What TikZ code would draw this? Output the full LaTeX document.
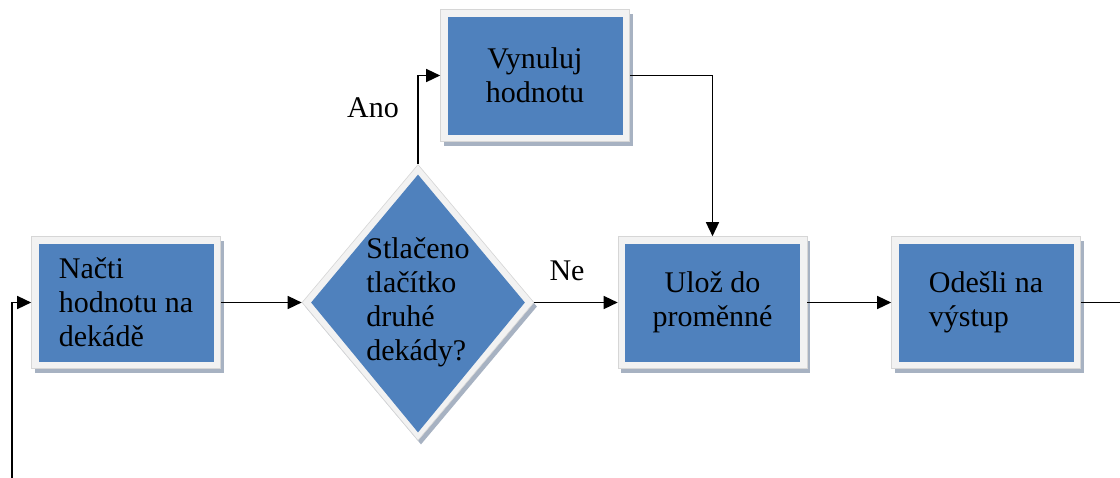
\documentclass[tikz,border=0pt]{standalone}
\usepackage{fontspec}
\setmainfont{Liberation Serif}
\usetikzlibrary{shapes.geometric,shadows,arrows.meta,calc}
\definecolor{boxblue}{HTML}{4F81BD}
\definecolor{framec}{HTML}{F2F2F2}
\definecolor{framedge}{HTML}{D6D6D6}
\definecolor{shadowc}{HTML}{A7B2C2}

\tikzset{
  lbl/.style={font=\fontsize{30}{34}\selectfont, text=black, inner sep=0pt},
  boxshadow/.style={drop shadow={shadow xshift=3pt, shadow yshift=-4pt, fill=shadowc, opacity=1}},
  stepbox/.style={lbl, rectangle, minimum width=189pt, minimum height=132pt,
    fill=framec, draw=framedge, line width=0.6pt, boxshadow,
    path picture={\fill[boxblue]
      ($(path picture bounding box.south west)+(7pt,7pt)$) rectangle
      ($(path picture bounding box.north east)+(-7pt,-7pt)$);}},
  decision/.style={diamond, minimum width=232pt, minimum height=276pt, inner sep=0pt,
    fill=framec, draw=framedge, line width=0.6pt, boxshadow,
    path picture={\fill[boxblue]
      ($(path picture bounding box.north)+(0pt,-10pt)$) --
      ($(path picture bounding box.east)+(-9pt,0pt)$) --
      ($(path picture bounding box.south)+(0pt,8pt)$) --
      ($(path picture bounding box.west)+(9pt,0pt)$) -- cycle;}},
  link/.style={line width=1.4pt, draw=black},
  flow/.style={link, -{Triangle[length=14pt,width=13pt]}},
}

\begin{document}
\begin{tikzpicture}[x=1pt, y=-1pt]
  \fill[white] (0,0) rectangle (1120,477);
  \useasboundingbox (0,0) rectangle (1120,477);

  % process steps and the decision
  \node[stepbox, align=left] (read) at (126,302.5) {Načti\\hodnotu na\\dekádě};
  \node[decision] (ask) at (418,302.5) {};
  \node[lbl, align=left] (asktext) at (ask.center) {Stlačeno\\tlačítko\\druhé\\dekády?};
  \node[stepbox, align=center] (reset) at (535,75.5) {Vynuluj\\hodnotu};
  \node[stepbox, align=center] (store) at (712.5,302.5) {Ulož do\\proměnné};
  \node[stepbox, align=left] (send) at (986,302.5) {Odešli na\\výstup};

  % branch labels
  \node[lbl] (yes) at (373,108) {Ano};
  \node[lbl] (no) at (567,271) {Ne};

  % loop ends leaving the frame
  \coordinate (loopin) at (12,480);
  \coordinate (loopout) at (1120.6,480);

  % connectors
  \draw[flow] (loopin) |- (read.west);
  \draw[flow] (read.east) -- (ask.west);
  \draw[flow] (ask.north) |- (reset.west);
  \draw[flow] (ask.east) -- (store.west);
  \draw[flow] (reset.east) -| (store.north);
  \draw[flow] (store.east) -- (send.west);
  \draw[link] (send.east) -| (loopout);
\end{tikzpicture}
\end{document}
